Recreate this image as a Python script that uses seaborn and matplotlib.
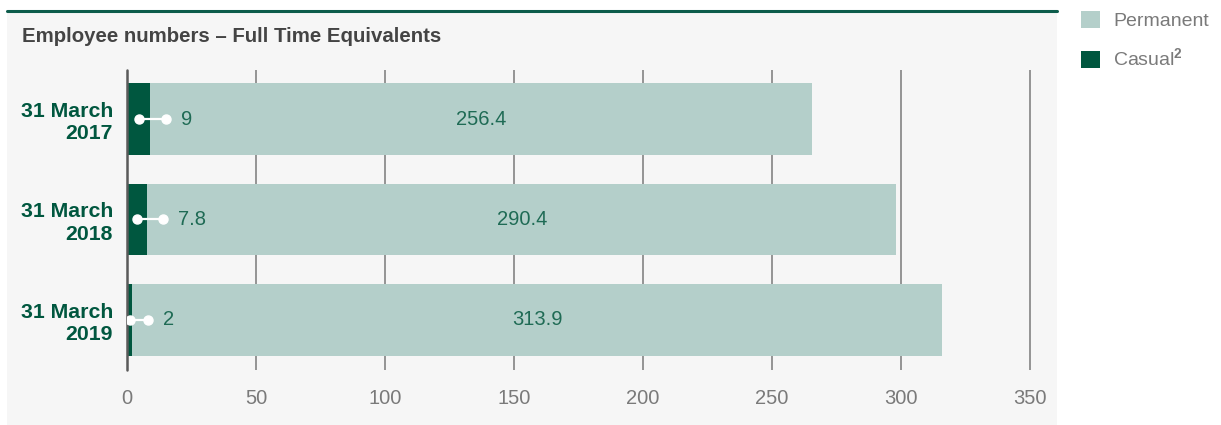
import matplotlib
matplotlib.use("Agg")
import matplotlib.pyplot as plt
from matplotlib.patches import Rectangle, Patch
from matplotlib.lines import Line2D
import seaborn as sns
import pandas as pd

# Full time equivalent headcount by reporting date
periods = ["31 March\n2017", "31 March\n2018", "31 March\n2019"]
casual = [9, 7.8, 2]
permanent = [256.4, 290.4, 313.9]
x_ticks = [0, 50, 100, 150, 200, 250, 300, 350]

df = pd.DataFrame({"period": periods, "casual": casual, "permanent": permanent})
df["total"] = df["casual"] + df["permanent"]

DARK = "#00573f"
LIGHT = "#b4cfca"
LABEL = "#1f6b55"
PANEL = "#f6f6f6"
GREY_TXT = "#7a7a7a"

sns.set_theme(style="white")
plt.rcParams["font.family"] = ["Liberation Sans", "DejaVu Sans"]
plt.rcParams["mathtext.fontset"] = "custom"
plt.rcParams["mathtext.rm"] = "Liberation Sans"
plt.rcParams["mathtext.bf"] = "Liberation Sans:bold"

W, H = 1221, 425
fig = plt.figure(figsize=(W / 100, H / 100), dpi=100)
fig.patch.set_facecolor("white")

# grey chart panel with a green rule along its top
fig.add_artist(Rectangle((7 / W, 0), 1050 / W, 415 / H, transform=fig.transFigure,
                         facecolor=PANEL, edgecolor="none", zorder=0))
fig.add_artist(Line2D([7 / W, 1057 / W], [1 - 10.5 / H, 1 - 10.5 / H],
                      transform=fig.transFigure, color="#0d5c4b", linewidth=2.2, zorder=1))

fig.text(22 / W, 1 - 37 / H, "Employee numbers – Full Time Equivalents",
         fontsize=14.7, color="#444444", fontweight="bold", va="center", ha="left")

ax = fig.add_axes([127 / W, 55 / H, 352 * 2.58 / W, 300 / H])
ax.set_facecolor("none")

bar_h = 0.716
sns.barplot(data=df, y="period", x="total", color=LIGHT, saturation=1,
            width=bar_h, orient="h", errorbar=None, ax=ax, zorder=3,
            linewidth=0, edgecolor="none")
sns.barplot(data=df, y="period", x="casual", color=DARK, saturation=1,
            width=bar_h, orient="h", errorbar=None, ax=ax, zorder=4,
            linewidth=0, edgecolor="none")

ax.set_xlim(0, 352)
ax.set_ylim(2.5, -0.49)
ax.set_xticks(x_ticks)
ax.set_xlabel("")
ax.set_ylabel("")
for s in ax.spines.values():
    s.set_visible(False)

for t in x_ticks[1:]:
    ax.axvline(t, color="#7a7a7a", linewidth=1.1, zorder=1)
ax.axvline(0, color="#5a5a5a", linewidth=1.8, zorder=6, clip_on=False)

ax.tick_params(axis="x", length=0, pad=14, labelsize=14.5, labelcolor=GREY_TXT)
ax.tick_params(axis="y", length=0, pad=10)
for lbl in ax.get_yticklabels():
    lbl.set_fontsize(15.3)
    lbl.set_fontweight("bold")
    lbl.set_color(DARK)
    lbl.set_linespacing(1.22)

# value labels: casual with a pointer, permanent centred in its segment
for i, (c, p) in enumerate(zip(casual, permanent)):
    x0, x1 = c / 2, c + 6.0
    ax.plot([x0, x1], [i, i], color="white", linewidth=1.6, zorder=7,
            solid_capstyle="butt")
    ax.plot([x0, x1], [i, i], linestyle="none", marker="o", markersize=6.5,
            color="white", zorder=8)
    ax.annotate(f"{c:g}", xy=(x1, i), xytext=(11, 0), textcoords="offset points",
                va="center", ha="left", fontsize=14.5, color=LABEL, zorder=9)
    ax.text(c + p / 2, i, f"{p:g}", va="center", ha="center",
            fontsize=14.5, color=LABEL, zorder=9)

handles = [Patch(facecolor=LIGHT, edgecolor="none"), Patch(facecolor=DARK, edgecolor="none")]
leg = fig.legend(handles, ["Permanent", r"Casual$^{\mathbf{2}}$"],
                 loc="upper left", bbox_to_anchor=(1073 / W, 1 - 3 / H),
                 frameon=False, fontsize=14, handlelength=0.98, handleheight=0.98,
                 handletextpad=0.7, labelspacing=0.9, borderaxespad=0)
for t in leg.get_texts():
    t.set_color(GREY_TXT)

fig.savefig("out.png", dpi=100, facecolor="white")
